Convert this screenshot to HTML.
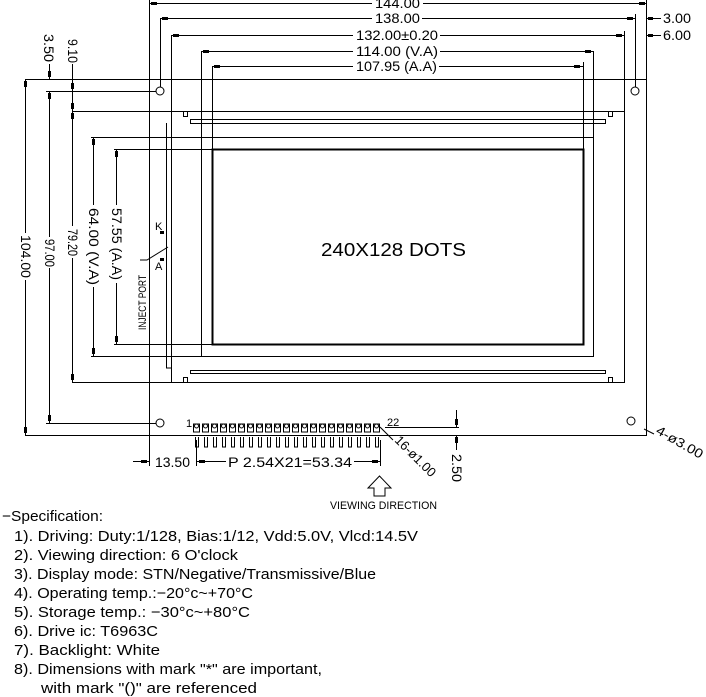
<!DOCTYPE html>
<html><head><meta charset="utf-8"><style>
html,body{margin:0;padding:0;background:#fff;}
svg{display:block}
text{font-family:"Liberation Sans",sans-serif;fill:#000}
</style></head><body>
<svg width="706" height="697" viewBox="0 0 706 697" xmlns="http://www.w3.org/2000/svg">
<g stroke="#000" stroke-width="1" fill="none">
<rect x="149.5" y="79.5" width="497" height="356"/>
<line x1="149.5" y1="0" x2="149.5" y2="79"/>
<line x1="646.5" y1="0" x2="646.5" y2="79"/>
<line x1="160.5" y1="18" x2="160.5" y2="87"/>
<line x1="635.5" y1="14" x2="635.5" y2="87"/>
<line x1="171.5" y1="35" x2="171.5" y2="111"/>
<line x1="624.5" y1="31" x2="624.5" y2="111"/>
<line x1="201.5" y1="51" x2="201.5" y2="356"/>
<line x1="593.5" y1="51" x2="593.5" y2="137"/>
<line x1="212.5" y1="66" x2="212.5" y2="149"/>
<line x1="583.5" y1="62" x2="583.5" y2="149"/>
<line x1="149" y1="3.5" x2="372" y2="3.5"/><line x1="423" y1="3.5" x2="646" y2="3.5"/>
<line x1="160" y1="18.5" x2="372" y2="18.5"/><line x1="422" y1="18.5" x2="635" y2="18.5"/>
<line x1="171" y1="35.5" x2="353" y2="35.5"/><line x1="440" y1="35.5" x2="624" y2="35.5"/>
<line x1="201" y1="51.5" x2="353" y2="51.5"/><line x1="440" y1="51.5" x2="593" y2="51.5"/>
<line x1="212" y1="66.5" x2="353" y2="66.5"/><line x1="439" y1="66.5" x2="583" y2="66.5"/>
<line x1="646" y1="18.5" x2="661" y2="18.5"/><line x1="646" y1="35.5" x2="661" y2="35.5"/>
<circle cx="160" cy="91" r="4"/><circle cx="635" cy="91" r="4"/>
<circle cx="160" cy="423" r="4"/><circle cx="631" cy="421" r="4"/>
<path d="M171.5 111.5 H624.5 V382.5 H171.5 Z"/>
<path d="M166.5 123 V368 H171"/>
<path d="M183.5 111.5 v5 h4 v-5 M608.5 111.5 v5 h4 v-5 M183.5 382.5 v-5 h4 v5 M608.5 382.5 v-5 h4 v5"/>
<path d="M190.5 119.5 H605.5 V123.5 H190.5 Z"/>
<path d="M190.5 370.5 H605.5 V373.5 H190.5 Z"/>
<rect x="201.5" y="137.5" width="392" height="219"/>
<line x1="25" y1="79.5" x2="149" y2="79.5"/>
<line x1="25" y1="435.5" x2="149" y2="435.5"/>
<line x1="46" y1="91.5" x2="156" y2="91.5"/>
<line x1="46" y1="423.5" x2="156" y2="423.5"/>
<line x1="72" y1="111.5" x2="171" y2="111.5"/>
<line x1="72" y1="382.5" x2="171" y2="382.5"/>
<line x1="91" y1="137.5" x2="201" y2="137.5"/>
<line x1="91" y1="356.5" x2="201" y2="356.5"/>
<line x1="114" y1="149.5" x2="212" y2="149.5"/>
<line x1="114" y1="344.5" x2="212" y2="344.5"/>
<line x1="25.5" y1="79" x2="25.5" y2="233"/><line x1="25.5" y1="280" x2="25.5" y2="435"/>
<line x1="49.5" y1="91" x2="49.5" y2="237"/><line x1="49.5" y1="268" x2="49.5" y2="423"/>
<line x1="72.5" y1="64" x2="72.5" y2="226"/><line x1="72.5" y1="258" x2="72.5" y2="382"/>
<line x1="49.5" y1="64" x2="49.5" y2="79"/>
<line x1="93.5" y1="137" x2="93.5" y2="205"/><line x1="93.5" y1="287" x2="93.5" y2="356"/>
<line x1="116.5" y1="149" x2="116.5" y2="205"/><line x1="116.5" y1="283" x2="116.5" y2="344"/>
<path d="M140 260 H147 L168 247"/>
<path d="M160 232 H163"/>
<line x1="149.5" y1="435" x2="149.5" y2="466"/>
<line x1="196.5" y1="440" x2="196.5" y2="466"/>
<line x1="380.5" y1="440" x2="380.5" y2="466"/>
<line x1="133" y1="461.5" x2="149" y2="461.5"/>
<line x1="197" y1="461.5" x2="226" y2="461.5"/>
<line x1="354" y1="461.5" x2="380" y2="461.5"/>
<line x1="385" y1="427.5" x2="459" y2="427.5"/>
<line x1="456.5" y1="410" x2="456.5" y2="427"/>
<line x1="456.5" y1="435" x2="456.5" y2="450"/>
<line x1="380" y1="427" x2="393" y2="440"/>
<line x1="644" y1="429" x2="654" y2="434"/>
<path d="M379.5 476 L368 488 H374 V496 H385 V488 H391 Z"/>
</g>
<rect x="212.5" y="149.5" width="371" height="195" fill="none" stroke="#000" stroke-width="2"/>
<g fill="#000">
<rect x="151" y="2" width="6" height="3"/><rect x="639" y="2" width="6" height="3"/>
<rect x="162" y="17" width="6" height="3"/><rect x="627" y="17" width="6" height="3"/>
<rect x="173" y="34" width="6" height="3"/><rect x="616" y="34" width="6" height="3"/>
<rect x="203" y="50" width="6" height="3"/><rect x="585" y="50" width="6" height="3"/>
<rect x="214" y="65" width="6" height="3"/><rect x="574" y="65" width="6" height="3"/>
<rect x="648" y="17" width="5" height="3"/><rect x="648" y="34" width="5" height="3"/>
<rect x="24" y="81" width="3" height="6"/><rect x="24" y="427" width="3" height="6"/>
<rect x="48" y="93" width="3" height="6"/><rect x="48" y="415" width="3" height="6"/>
<rect x="48" y="71" width="3" height="6"/>
<rect x="71" y="83" width="3" height="6"/><rect x="71" y="103" width="3" height="6"/>
<rect x="71" y="113" width="3" height="6"/><rect x="71" y="374" width="3" height="6"/>
<rect x="92" y="139" width="3" height="6"/><rect x="92" y="348" width="3" height="6"/>
<rect x="115" y="151" width="3" height="6"/><rect x="115" y="336" width="3" height="6"/>
<rect x="141" y="460" width="6" height="3"/><rect x="199" y="460" width="6" height="3"/>
<rect x="372" y="460" width="6" height="3"/>
<rect x="455" y="419" width="3" height="6"/><rect x="455" y="437" width="3" height="6"/>
<rect x="160" y="231" width="4" height="3"/><rect x="160" y="258" width="4" height="3"/>
</g>
<g font-size="14">
<text x="375" y="8" textLength="45" lengthAdjust="spacingAndGlyphs">144.00</text>
<text x="375" y="23" textLength="45" lengthAdjust="spacingAndGlyphs">138.00</text>
<text x="356" y="40" textLength="82" lengthAdjust="spacingAndGlyphs">132.00±0.20</text>
<text x="356" y="56" textLength="82" lengthAdjust="spacingAndGlyphs">114.00  (V.A)</text>
<text x="356" y="71" textLength="81" lengthAdjust="spacingAndGlyphs">107.95  (A.A)</text>
<text x="663" y="23" textLength="28" lengthAdjust="spacingAndGlyphs">3.00</text>
<text x="663" y="40" textLength="28" lengthAdjust="spacingAndGlyphs">6.00</text>
<text transform="translate(44,34) rotate(90)" textLength="28" lengthAdjust="spacingAndGlyphs">3.50</text>
<text transform="translate(68,39) rotate(90)" textLength="24" lengthAdjust="spacingAndGlyphs">9.10</text>
<text transform="translate(21,235) rotate(90)" textLength="43" lengthAdjust="spacingAndGlyphs">104.00</text>
<text transform="translate(45,239) rotate(90)" textLength="28" lengthAdjust="spacingAndGlyphs">97.00</text>
<text transform="translate(68,229) rotate(90)" textLength="27" lengthAdjust="spacingAndGlyphs">79.20</text>
<text transform="translate(89,208) rotate(90)" textLength="77" lengthAdjust="spacingAndGlyphs">64.00  (V.A)</text>
<text transform="translate(112,208) rotate(90)" textLength="72" lengthAdjust="spacingAndGlyphs">57.55  (A.A)</text>
<text font-size="11" transform="translate(146,330) rotate(-90)" textLength="55" lengthAdjust="spacingAndGlyphs">INJECT PORT</text>
<text font-size="11" x="155" y="230">K</text>
<text font-size="11" x="155" y="270">A</text>
<text font-size="18" x="321" y="256" textLength="145" lengthAdjust="spacingAndGlyphs">240X128  DOTS</text>
<text font-size="11" x="186" y="427">1</text>
<text font-size="11" x="387" y="426">22</text>
<text x="155" y="467" textLength="35" lengthAdjust="spacingAndGlyphs">13.50</text>
<text x="228" y="467" textLength="124" lengthAdjust="spacingAndGlyphs">P  2.54X21=53.34</text>
<text transform="translate(452,454) rotate(90)" textLength="28" lengthAdjust="spacingAndGlyphs">2.50</text>
<text transform="translate(394,441) rotate(45)" font-size="13" textLength="52" lengthAdjust="spacingAndGlyphs">16-ø1.00</text>
<text transform="translate(655,433) rotate(30)" font-size="13" textLength="52" lengthAdjust="spacingAndGlyphs">4-ø3.00</text>
<text font-size="11" x="330" y="509" textLength="107" lengthAdjust="spacingAndGlyphs">VIEWING  DIRECTION</text>
</g>
<g font-size="15">
<text x="2" y="521" textLength="101" lengthAdjust="spacingAndGlyphs">−Specification:</text>
<text x="14" y="541" textLength="404" lengthAdjust="spacingAndGlyphs">1). Driving: Duty:1/128, Bias:1/12, Vdd:5.0V, Vlcd:14.5V</text>
<text x="14" y="560" textLength="224" lengthAdjust="spacingAndGlyphs">2). Viewing direction: 6 O'clock</text>
<text x="14" y="579" textLength="362" lengthAdjust="spacingAndGlyphs">3). Display mode: STN/Negative/Transmissive/Blue</text>
<text x="14" y="598" textLength="239" lengthAdjust="spacingAndGlyphs">4). Operating temp.:−20°c~+70°C</text>
<text x="14" y="617" textLength="236" lengthAdjust="spacingAndGlyphs">5). Storage temp.: −30°c~+80°C</text>
<text x="14" y="636" textLength="144" lengthAdjust="spacingAndGlyphs">6). Drive ic: T6963C</text>
<text x="14" y="655" textLength="146" lengthAdjust="spacingAndGlyphs">7). Backlight:  White</text>
<text x="14" y="674" textLength="308" lengthAdjust="spacingAndGlyphs">8). Dimensions with mark "*" are important,</text>
<text x="41" y="693" textLength="216" lengthAdjust="spacingAndGlyphs">with mark "()" are referenced</text>
</g>
<g stroke="#000" fill="none" stroke-width="1">
<path d="M193.5 424h6v8h-6zM202.5 424h6v8h-6zM211.5 424h6v8h-6zM220.5 424h6v8h-6zM229.5 424h6v8h-6zM238.5 424h6v8h-6zM247.5 424h6v8h-6zM256.5 424h6v8h-6zM265.5 424h6v8h-6zM274.5 424h6v8h-6zM283.5 424h6v8h-6zM292.5 424h6v8h-6zM301.5 424h6v8h-6zM310.5 424h6v8h-6zM319.5 424h6v8h-6zM328.5 424h6v8h-6zM337.5 424h6v8h-6zM346.5 424h6v8h-6zM355.5 424h6v8h-6zM364.5 424h6v8h-6zM373.5 424h6v8h-6z"/>
<path d="M195.5 437v10h3v-10M204.5 437v10h3v-10M213.5 437v10h3v-10M222.5 437v10h3v-10M231.5 437v10h3v-10M240.5 437v10h3v-10M249.5 437v10h3v-10M258.5 437v10h3v-10M267.5 437v10h3v-10M276.5 437v10h3v-10M285.5 437v10h3v-10M294.5 437v10h3v-10M303.5 437v10h3v-10M312.5 437v10h3v-10M321.5 437v10h3v-10M330.5 437v10h3v-10M339.5 437v10h3v-10M348.5 437v10h3v-10M357.5 437v10h3v-10M366.5 437v10h3v-10M375.5 437v10h3v-10"/>
<circle cx="196.5" cy="426" r="2"/><circle cx="205.5" cy="426" r="2"/><circle cx="214.5" cy="426" r="2"/><circle cx="223.5" cy="426" r="2"/><circle cx="232.5" cy="426" r="2"/><circle cx="241.5" cy="426" r="2"/><circle cx="250.5" cy="426" r="2"/><circle cx="259.5" cy="426" r="2"/><circle cx="268.5" cy="426" r="2"/><circle cx="277.5" cy="426" r="2"/><circle cx="286.5" cy="426" r="2"/><circle cx="295.5" cy="426" r="2"/><circle cx="304.5" cy="426" r="2"/><circle cx="313.5" cy="426" r="2"/><circle cx="322.5" cy="426" r="2"/><circle cx="331.5" cy="426" r="2"/><circle cx="340.5" cy="426" r="2"/><circle cx="349.5" cy="426" r="2"/><circle cx="358.5" cy="426" r="2"/><circle cx="367.5" cy="426" r="2"/><circle cx="376.5" cy="426" r="2"/>
</g>
</svg>
</body></html>
